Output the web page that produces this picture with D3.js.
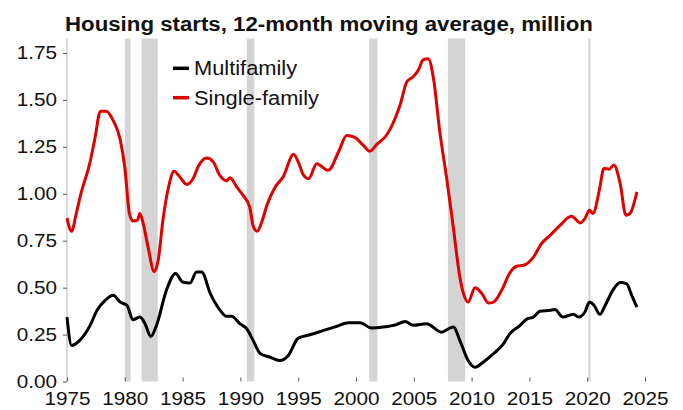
<!DOCTYPE html>
<html>
<head>
<meta charset="utf-8">
<script src="https://cdn.jsdelivr.net/npm/d3@7"></script>
<style>
  body { margin: 0; background: #fff; }
  text { font-family: "Liberation Sans", Arial, sans-serif; fill: #111; }
</style>
</head>
<body>
<div id="chart"></div>
<script>
// single-family starts, 12-month moving average (million)
var singleYears = [1975.0, 1975.4, 1975.8, 1976.2, 1977.0, 1977.4, 1977.9, 1978.4, 1979.0, 1979.6,
  1980.0, 1980.4, 1980.7, 1981.1, 1981.3, 1981.6, 1982.0, 1982.55, 1982.9, 1983.3,
  1983.8, 1984.25, 1984.7, 1985.35, 1985.9, 1986.35, 1987.1, 1987.65, 1988.2, 1988.8,
  1989.1, 1989.7, 1990.25, 1990.8, 1991.1, 1991.45, 1991.85, 1992.3, 1993.0, 1993.7,
  1994.6, 1995.0, 1995.45, 1995.9, 1996.6, 1997.6, 1998.5, 1999.2, 1999.9, 2000.6,
  2001.2, 2001.8, 2002.65, 2003.2, 2003.8, 2004.4, 2004.95, 2005.4, 2005.8, 2006.25,
  2006.7, 2007.25, 2007.85, 2008.4, 2009.0, 2009.3, 2009.7, 2010.3, 2010.9, 2011.45,
  2011.9, 2012.6, 2013.3, 2013.9, 2014.5, 2015.35, 2016.05, 2016.8, 2017.65, 2018.65,
  2019.4, 2019.8, 2020.2, 2020.5, 2021.05, 2021.45, 2021.9, 2022.3, 2022.85, 2023.35,
  2023.7, 2024.3];
var singleValues = [0.87, 0.80, 0.895, 1.00, 1.17, 1.29, 1.44, 1.44, 1.39, 1.29,
  1.14, 0.895, 0.855, 0.86, 0.895, 0.84, 0.72, 0.585, 0.65, 0.86,
  1.04, 1.12, 1.095, 1.05, 1.08, 1.145, 1.19, 1.17, 1.10, 1.07,
  1.085, 1.035, 0.99, 0.93, 0.83, 0.80, 0.85, 0.94, 1.035, 1.09,
  1.21, 1.17, 1.10, 1.08, 1.16, 1.125, 1.225, 1.31, 1.30, 1.26,
  1.227, 1.263, 1.313, 1.375, 1.47, 1.597, 1.624, 1.66, 1.713, 1.72,
  1.615, 1.33, 1.08, 0.83, 0.55, 0.468, 0.423, 0.50, 0.468, 0.418,
  0.423, 0.486, 0.578, 0.614, 0.619, 0.663, 0.735, 0.779, 0.832, 0.88,
  0.845, 0.868, 0.912, 0.895, 1.019, 1.135, 1.131, 1.153, 1.055, 0.886,
  0.895, 1.01];

// multifamily starts, 12-month moving average (million)
var multiYears = [1975.0, 1975.4, 1976.1, 1977.0, 1977.6, 1978.3, 1979.0, 1979.6, 1980.2, 1980.7,
  1981.3, 1981.75, 1982.25, 1982.75, 1983.6, 1984.4, 1985.0, 1985.65, 1986.2, 1986.65,
  1987.4, 1988.25, 1988.8, 1989.25, 1989.95, 1990.55, 1991.1, 1991.7, 1992.55, 1993.4,
  1994.15, 1995.0, 1996.0, 1997.2, 1998.3, 1999.35, 2000.35, 2001.35, 2002.35, 2003.5,
  2004.25, 2004.95, 2006.1, 2007.4, 2008.4, 2009.1, 2009.7, 2010.3, 2011.0, 2011.9,
  2012.75, 2013.3, 2014.2, 2014.8, 2015.35, 2015.9, 2016.8, 2017.2, 2017.9, 2018.8,
  2019.25, 2019.8, 2020.2, 2020.6, 2021.1, 2021.55, 2022.25, 2022.85, 2023.4, 2023.85,
  2024.3];
var multiValues = [0.343, 0.192, 0.219, 0.299, 0.379, 0.432, 0.459, 0.423, 0.405, 0.329,
  0.343, 0.308, 0.24, 0.30, 0.486, 0.575, 0.53, 0.525, 0.583, 0.583,
  0.468, 0.379, 0.347, 0.347, 0.308, 0.281, 0.219, 0.15, 0.13, 0.112,
  0.139, 0.231, 0.249, 0.272, 0.293, 0.313, 0.313, 0.285, 0.29, 0.303,
  0.32, 0.299, 0.308, 0.263, 0.29, 0.20, 0.112, 0.076, 0.103, 0.148,
  0.20, 0.254, 0.299, 0.334, 0.343, 0.374, 0.379, 0.383, 0.343, 0.358,
  0.343, 0.37, 0.423, 0.405, 0.358, 0.405, 0.489, 0.527, 0.521, 0.459,
  0.396];

// recessions (start, end) as decimal years
var recessionStarts = [1980.0, 1981.45, 1990.55, 2001.15, 2007.95, 2020.1];
var recessionEnds = [1980.5, 1982.85, 1991.2, 2001.85, 2009.45, 2020.28];

var xTicks = [1975, 1980, 1985, 1990, 1995, 2000, 2005, 2010, 2015, 2020, 2025];
var yTicks = [0, 0.25, 0.5, 0.75, 1.0, 1.25, 1.5, 1.75];

var seriesNames = ["Multifamily", "Single-family"];
var seriesColors = ["#000000", "#e00000"];

var width = 683,
  height = 410,
  plotLeft = 67,
  plotRight = 645,
  plotTop = 38.5,
  plotBottom = 381.5,
  textStretch = 1.12;

var svg = d3.select("#chart").append("svg")
  .attr("width", width)
  .attr("height", height);

var x = d3.scaleLinear()
  .domain([1975, 2025])
  .range([plotLeft, plotRight]);

var y = d3.scaleLinear()
  .domain([0, 1.75])
  .range([plotBottom, 53]);

// recession shading
svg.append("g")
  .selectAll("rect")
  .data(recessionStarts)
  .enter().append("rect")
  .attr("x", function(d) { return x(d); })
  .attr("width", function(d, i) { return x(recessionEnds[i]) - x(d); })
  .attr("y", plotTop)
  .attr("height", plotBottom - plotTop)
  .attr("fill", "#d4d4d4");

// y axis line (light grey)
svg.append("line")
  .attr("x1", plotLeft).attr("x2", plotLeft)
  .attr("y1", plotTop).attr("y2", plotBottom)
  .attr("stroke", "#cfcfcf")
  .attr("stroke-width", 1.5);

var yAxis = svg.append("g")
  .attr("transform", "translate(" + plotLeft + ",0)")
  .call(d3.axisLeft(y)
    .tickValues(yTicks)
    .tickSize(4)
    .tickPadding(5)
    .tickFormat(d3.format(".2f")));
yAxis.select(".domain").remove();
yAxis.selectAll("line").attr("stroke", "#555");
yAxis.selectAll("text")
  .attr("font-size", 18.5)
  .attr("fill", "#111")
  .attr("transform", "scale(" + textStretch + ",1)");

var xAxis = svg.append("g")
  .attr("transform", "translate(0," + plotBottom + ")")
  .call(d3.axisBottom(x)
    .tickValues(xTicks)
    .tickSize(-4)
    .tickPadding(10)
    .tickFormat(d3.format("d")));
xAxis.select(".domain").remove();
xAxis.selectAll("line").attr("stroke", "#555");
xAxis.selectAll("text")
  .attr("font-size", 18.5)
  .attr("fill", "#111")
  .attr("transform", "scale(" + textStretch + ",1)");

var line = d3.line()
  .curve(d3.curveMonotoneX)
  .x(function(d) { return x(d[0]); })
  .y(function(d) { return y(d[1]); });

var multi = d3.zip(multiYears, multiValues);
var single = d3.zip(singleYears, singleValues);

svg.append("path")
  .datum(multi)
  .attr("d", line)
  .attr("fill", "none")
  .attr("stroke", seriesColors[0])
  .attr("stroke-width", 3)
  .attr("stroke-linejoin", "round");

svg.append("path")
  .datum(single)
  .attr("d", line)
  .attr("fill", "none")
  .attr("stroke", seriesColors[1])
  .attr("stroke-width", 3)
  .attr("stroke-linejoin", "round");

// title
svg.append("text")
  .attr("transform", "translate(65,31) scale(1.06,1)")
  .attr("font-size", 21)
  .attr("font-weight", "bold")
  .text("Housing starts, 12-month moving average, million");

// legend
var legend = svg.selectAll(".legend")
  .data(seriesNames)
  .enter().append("g")
  .attr("class", "legend")
  .attr("transform", function(d, i) {
    return "translate(173," + (68.3 + i * 29.4) + ")";
  });

legend.append("line")
  .attr("x1", 0).attr("x2", 16)
  .attr("stroke", function(d, i) { return seriesColors[i]; })
  .attr("stroke-width", 3.5);

legend.append("text")
  .attr("transform", "translate(21,6.9) scale(" + textStretch + ",1)")
  .attr("font-size", 19.5)
  .text(function(d) { return d; });
</script>
</body>
</html>
